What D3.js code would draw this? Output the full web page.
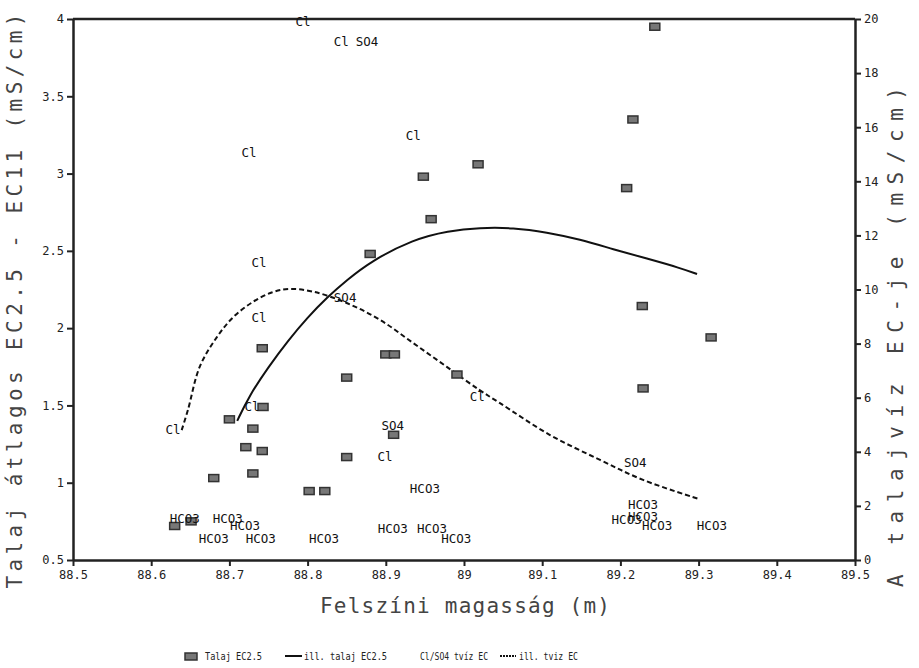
<!DOCTYPE html>
<html>
<head>
<meta charset="utf-8">
<script src="https://cdn.jsdelivr.net/npm/d3@7"></script>
<style>
  body { margin: 0; background: #fff; }
  svg { display: block; }
  .tick text { font-family: "DejaVu Sans Mono", monospace; font-size: 12px; fill: #222; }
  .ion { font-family: "DejaVu Sans Mono", monospace; font-size: 12.5px; fill: #111; }
  .title { font-family: "DejaVu Sans Mono", monospace; fill: #444; }
  .legend text { font-family: "DejaVu Sans Mono", monospace; font-size: 10px; fill: #222; }
</style>
</head>
<body>
<svg id="chart" width="919" height="668"></svg>
<script>
// talaj EC2.5 pontok (bal tengely)
const soilX = [88.630, 88.651, 88.680, 88.700, 88.721, 88.730, 88.730, 88.742, 88.743, 88.742,
  88.802, 88.822, 88.850, 88.850, 88.900, 88.911, 88.910, 88.880, 88.948, 88.958,
  88.991, 89.018, 89.208, 89.216, 89.228, 89.229, 89.244, 89.316];
const soilY = [0.72, 0.75, 1.03, 1.41, 1.23, 1.35, 1.06, 1.205, 1.49, 1.87,
  0.946, 0.946, 1.166, 1.68, 1.83, 1.83, 1.31, 2.48, 2.98, 2.705,
  1.70, 3.06, 2.906, 3.35, 2.143, 1.61, 3.95, 1.94];

// illesztett talaj EC2.5 (bal tengely)
const fitSoilX = [88.710, 88.725, 88.750, 88.775, 88.800, 88.825, 88.850, 88.880, 88.935, 88.980,
  89.020, 89.063, 89.106, 89.148, 89.191, 89.234, 89.276, 89.298];
const fitSoilY = [1.40, 1.56, 1.75, 1.92, 2.07, 2.20, 2.31, 2.43, 2.575, 2.63,
  2.65, 2.65, 2.62, 2.575, 2.51, 2.45, 2.39, 2.35];

// illesztett talajvíz EC (jobb tengely)
const fitWaterX = [88.639, 88.647, 88.662, 88.684, 88.705, 88.730, 88.755, 88.777, 88.807, 88.850,
  88.893, 88.935, 88.978, 89.020, 89.046, 89.110, 89.174, 89.229, 89.300];
const fitWaterY = [4.8, 5.55, 7.14, 8.24, 8.98, 9.54, 9.90, 10.02, 9.92, 9.50,
  8.87, 8.02, 7.14, 6.28, 5.80, 4.62, 3.70, 2.96, 2.26];

// Cl/SO4/HCO3 talajvíz EC (jobb tengely)
const ionName = ["Cl", "Cl", "SO4", "Cl", "Cl", "Cl", "SO4", "Cl", "Cl", "Cl",
  "SO4", "Cl", "HCO3", "Cl", "HCO3", "HCO3", "HCO3", "HCO3", "HCO3", "HCO3",
  "HCO3", "HCO3", "HCO3", "SO4", "HCO3", "HCO3", "HCO3", "HCO3", "HCO3"];
const ionX = [88.794, 88.843, 88.876, 88.935, 88.725, 88.738, 88.848, 88.738, 88.729, 88.628,
  88.909, 88.899, 88.950, 89.017, 88.643, 88.698, 88.720, 88.680, 88.740, 88.821,
  88.909, 88.959, 88.990, 89.219, 89.229, 89.208, 89.229, 89.247, 89.317];
const ionY = [19.9, 19.15, 19.15, 15.71, 15.05, 10.98, 9.69, 8.98, 5.66, 4.84,
  4.99, 3.81, 2.66, 6.03, 1.52, 1.52, 1.29, 0.81, 0.81, 0.81,
  1.18, 1.18, 0.81, 3.62, 2.07, 1.48, 1.59, 1.26, 1.26];

const xTicks = d3.range(0, 11).map(i => 88.5 + i * 0.1);
const leftTicks = [0.5, 1, 1.5, 2, 2.5, 3, 3.5, 4];
const rightTicks = [0, 2, 4, 6, 8, 10, 12, 14, 16, 18, 20];

const svg = d3.select('#chart');

const x = d3.scaleLinear().domain([88.5, 89.5]).range([73, 855]);
const yL = d3.scaleLinear().domain([0.5, 4]).range([560, 19]);
const yR = d3.scaleLinear().domain([0, 20]).range([560, 19]);

// tengelyek
const fmt = d => String(+d.toFixed(1));
const styleAxis = g => {
  g.select('.domain').attr('stroke', '#222').attr('stroke-width', 2.5);
  g.selectAll('.tick line').attr('stroke', '#222').attr('stroke-width', 2);
};

svg.append('g').attr('transform', 'translate(0,560)')
  .call(d3.axisBottom(x).tickValues(xTicks).tickFormat(fmt).tickSize(6).tickSizeOuter(0).tickPadding(4))
  .call(styleAxis);
svg.append('g').attr('transform', 'translate(73,0)')
  .call(d3.axisLeft(yL).tickValues(leftTicks).tickFormat(fmt).tickSize(6).tickSizeOuter(0).tickPadding(3))
  .call(styleAxis);
svg.append('g').attr('transform', 'translate(855,0)')
  .call(d3.axisRight(yR).tickValues(rightTicks).tickFormat(d3.format('d')).tickSize(6).tickSizeOuter(0).tickPadding(3))
  .call(styleAxis);
svg.append('line')
  .attr('x1', x(88.5)).attr('x2', x(89.5)).attr('y1', yL(4)).attr('y2', yL(4))
  .attr('stroke', '#222').attr('stroke-width', 2.5);

// illesztett görbék
const soilFit = fitSoilX.map((d, i) => [d, fitSoilY[i]]);
const waterFit = fitWaterX.map((d, i) => [d, fitWaterY[i]]);

svg.append('path').datum(soilFit)
  .attr('fill', 'none').attr('stroke', '#111').attr('stroke-width', 2)
  .attr('d', d3.line().x(d => x(d[0])).y(d => yL(d[1])).curve(d3.curveBasis));
svg.append('path').datum(waterFit)
  .attr('fill', 'none').attr('stroke', '#111').attr('stroke-width', 2)
  .attr('stroke-dasharray', '5,3')
  .attr('d', d3.line().x(d => x(d[0])).y(d => yR(d[1])).curve(d3.curveCatmullRom));

// talaj pontok
svg.append('g').selectAll('rect')
  .data(soilX.map((d, i) => [d, soilY[i]]))
  .enter().append('rect')
  .attr('x', d => x(d[0]) - 5).attr('y', d => yL(d[1]) - 3.5)
  .attr('width', 10).attr('height', 7)
  .attr('fill', '#777').attr('stroke', '#333').attr('stroke-width', 1.5);

// ion címkék
svg.append('g').selectAll('text')
  .data(ionName.map((d, i) => ({name: d, x: ionX[i], y: ionY[i]})))
  .enter().append('text')
  .attr('class', 'ion')
  .attr('x', d => x(d.x)).attr('y', d => yR(d.y))
  .attr('text-anchor', 'middle').attr('dominant-baseline', 'central')
  .text(d => d.name);

// tengelycímek
svg.append('text').attr('class', 'title')
  .attr('x', 465).attr('y', 613).attr('text-anchor', 'middle')
  .attr('font-size', 21).attr('textLength', 290).attr('lengthAdjust', 'spacing')
  .text('Felszíni magasság (m)');
svg.append('text').attr('class', 'title')
  .attr('transform', 'translate(22,301) rotate(-90)').attr('text-anchor', 'middle')
  .attr('font-size', 21).attr('textLength', 575).attr('lengthAdjust', 'spacing')
  .text('Talaj átlagos EC2.5 - EC11 (mS/cm)');
svg.append('text').attr('class', 'title')
  .attr('transform', 'translate(903,337) rotate(-90)').attr('text-anchor', 'middle')
  .attr('font-size', 21).attr('textLength', 500).attr('lengthAdjust', 'spacing')
  .text('A talajvíz EC-je (mS/cm)');

// jelmagyarázat
const legend = svg.append('g').attr('class', 'legend');
legend.append('rect').attr('x', 185).attr('y', 653).attr('width', 12).attr('height', 7)
  .attr('fill', '#777').attr('stroke', '#333').attr('stroke-width', 1.5);
legend.append('text').attr('x', 205).attr('y', 660)
  .attr('textLength', 57).attr('lengthAdjust', 'spacingAndGlyphs').text('Talaj EC2.5');
legend.append('line').attr('x1', 285).attr('x2', 302).attr('y1', 656).attr('y2', 656)
  .attr('stroke', '#111').attr('stroke-width', 2);
legend.append('text').attr('x', 304).attr('y', 660)
  .attr('textLength', 83).attr('lengthAdjust', 'spacingAndGlyphs').text('ill. talaj EC2.5');
legend.append('text').attr('x', 420).attr('y', 660)
  .attr('textLength', 68).attr('lengthAdjust', 'spacingAndGlyphs').text('Cl/SO4 tvíz EC');
legend.append('line').attr('x1', 500).attr('x2', 516).attr('y1', 656).attr('y2', 656)
  .attr('stroke', '#111').attr('stroke-width', 2).attr('stroke-dasharray', '2,1');
legend.append('text').attr('x', 519).attr('y', 660)
  .attr('textLength', 59).attr('lengthAdjust', 'spacingAndGlyphs').text('ill. tviz EC');
</script>
</body>
</html>
